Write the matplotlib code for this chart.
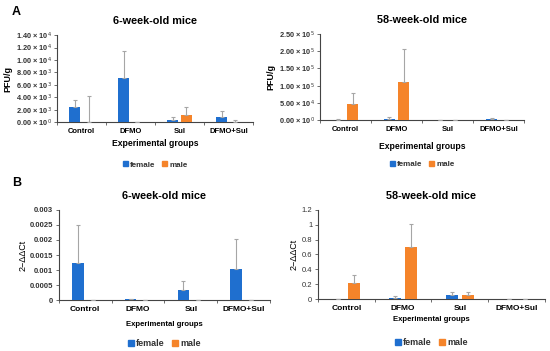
import matplotlib.pyplot as plt
import matplotlib.patches as mpatches
import numpy as np

plt.rcParams["font.family"] = ["Liberation Sans", "DejaVu Sans"]

GROUPS = ["Control", "DFMO", "Sul", "DFMO+Sul"]
BLUE = "#1f6fcf"
ORANGE = "#f5842a"
ERR = "#a6a6a6"

# panel A, PFU/g
a6_female = [2400, 7100, 350, 900]
a6_female_err = [1100, 4400, 550, 900]
a6_male = [0, 0, 1200, 80]
a6_male_err = [4200, 0, 1300, 220]
a6_ticks = [0, 2000, 4000, 6000, 8000, 10000, 12000, 14000]
a6_ticklabels = [r"0.00 × 10$^{0}$", r"2.00 × 10$^{3}$", r"4.00 × 10$^{3}$", r"6.00 × 10$^{3}$",
                 r"8.00 × 10$^{3}$", r"1.00 × 10$^{4}$", r"1.20 × 10$^{4}$", r"1.40 × 10$^{4}$"]

a58_female = [1200, 3500, 300, 1800]
a58_female_err = [2500, 6500, 300, 3000]
a58_male = [46000, 110000, 0, 0]
a58_male_err = [33000, 97000, 0, 0]
a58_ticks = [0, 50000, 100000, 150000, 200000, 250000]
a58_ticklabels = [r"0.00 × 10$^{0}$", r"5.00 × 10$^{4}$", r"1.00 × 10$^{5}$",
                  r"1.50 × 10$^{5}$", r"2.00 × 10$^{5}$", r"2.50 × 10$^{5}$"]

# panel B, 2-ddCt
b6_female = [0.00125, 0.00003, 0.00035, 0.00102]
b6_female_err = [0.00125, 0.00002, 0.00028, 0.00102]
b6_male = [0, 0, 0, 0]
b6_male_err = [0, 0, 0, 0]
b6_ticks = [0, 0.0005, 0.001, 0.0015, 0.002, 0.0025, 0.003]
b6_ticklabels = ["0", "0.0005", "0.001", "0.0015", "0.002", "0.0025", "0.003"]

b58_female = [0.0, 0.02, 0.05, 0.003]
b58_female_err = [0.0, 0.02, 0.04, 0.003]
b58_male = [0.21, 0.70, 0.05, 0.002]
b58_male_err = [0.12, 0.31, 0.04, 0.005]
b58_ticks = [0, 0.2, 0.4, 0.6, 0.8, 1.0, 1.2]
b58_ticklabels = ["0", "0.2", "0.4", "0.6", "0.8", "1", "1.2"]


def panel(ax, title, fem, fem_err, male, male_err, ticks, ticklabels, ylabel,
          tick_bold, tick_fs, cat_fs, xl_fs, yl_bold, leg_fs, leg_y, xl_pad):
    x = np.arange(len(GROUPS)) + 0.5
    w = 0.22
    off = 0.14
    ax.bar(x - off, fem, width=w, color=BLUE, zorder=3)
    ax.bar(x + off, male, width=w, color=ORANGE, zorder=3)
    ax.errorbar(x - off, fem, yerr=[np.zeros(4), fem_err], fmt="none", ecolor=ERR,
                elinewidth=0.8, capsize=1.5, capthick=0.8, zorder=4)
    ax.errorbar(x + off, male, yerr=[np.zeros(4), male_err], fmt="none", ecolor=ERR,
                elinewidth=0.8, capsize=1.5, capthick=0.8, zorder=4)
    ax.set_xlim(0, 4)
    ax.set_ylim(ticks[0], ticks[-1])
    ax.set_yticks(ticks)
    ax.set_yticklabels(ticklabels, fontsize=tick_fs,
                       fontweight="bold" if tick_bold else "normal", color="#333333")
    ax.set_xticks([0, 1, 2, 3, 4])
    ax.set_xticklabels([])
    ax.set_xticks(x, minor=True)
    ax.set_xticklabels(GROUPS, minor=True, fontsize=cat_fs, fontweight="bold")
    ax.tick_params(axis="x", which="minor", length=0, pad=4)
    ax.tick_params(axis="x", which="major", length=2.5, width=0.6, color="#555555")
    ax.tick_params(axis="y", length=2, width=0.6, pad=2, color="#555555")
    for s in ("top", "right"):
        ax.spines[s].set_visible(False)
    for s in ("left", "bottom"):
        ax.spines[s].set_linewidth(0.8)
        ax.spines[s].set_color("#444444")
    ax.set_title(title, fontsize=7.8, fontweight="bold", pad=8)
    ax.set_xlabel("Experimental groups", fontsize=xl_fs, fontweight="bold", labelpad=xl_pad)
    ax.set_ylabel(ylabel, fontsize=6.5, fontweight="bold" if yl_bold else "normal", labelpad=2)
    handles = [mpatches.Patch(color=BLUE, label="female"),
               mpatches.Patch(color=ORANGE, label="male")]
    leg = ax.legend(handles=handles, loc="center", bbox_to_anchor=(0.5, leg_y), ncol=2,
                    frameon=False, handlelength=0.6, handleheight=0.6, handletextpad=0.3,
                    columnspacing=0.8, prop={"size": leg_fs, "weight": "bold"})
    for t in leg.get_texts():
        t.set_color("#333333")


fig = plt.figure(figsize=(5.5, 3.51), dpi=100)
fig.patch.set_facecolor("white")

ax1 = fig.add_axes([0.104, 0.652, 0.356, 0.248])
ax2 = fig.add_axes([0.582, 0.658, 0.371, 0.245])
ax3 = fig.add_axes([0.107, 0.145, 0.384, 0.257])
ax4 = fig.add_axes([0.578, 0.148, 0.413, 0.254])

panel(ax1, "6-week-old mice", a6_female, a6_female_err, a6_male, a6_male_err,
      a6_ticks, a6_ticklabels, "PFU/g", True, 5.3, 5.5, 6.2, True, 5.8, -0.49, 3)
panel(ax2, "58-week-old mice", a58_female, a58_female_err, a58_male, a58_male_err,
      a58_ticks, a58_ticklabels, "PFU/g", True, 5.3, 5.5, 6.2, True, 5.8, -0.52, 7)
panel(ax3, "6-week-old mice", b6_female, b6_female_err, b6_male, b6_male_err,
      b6_ticks, b6_ticklabels, r"2−ΔΔCt", True, 5.5, 6, 5.6, False, 6.5, -0.48, 6)
panel(ax4, "58-week-old mice", b58_female, b58_female_err, b58_male, b58_male_err,
      b58_ticks, b58_ticklabels, r"2−ΔΔCt", False, 5.5, 6, 5.6, False, 6.5, -0.49, 3)

fig.text(0.022, 0.965, "A", fontsize=9, fontweight="bold", va="center")
fig.text(0.022, 0.48, "B", fontsize=9, fontweight="bold", va="center")

fig.savefig("out.png", dpi=100)
